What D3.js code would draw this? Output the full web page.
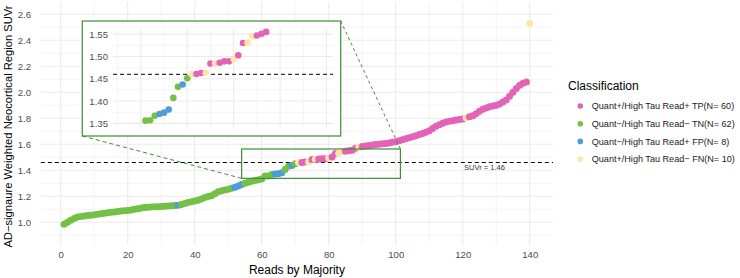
<!DOCTYPE html>
<html>
<head>
<meta charset="utf-8">
<script src="https://cdn.jsdelivr.net/npm/d3@7"></script>
<style>
body { margin: 0; background: #fff; }
text { font-family: "Liberation Sans", Arial, sans-serif; }
</style>
</head>
<body>
<script>
// SUVr per case, sorted by reads-by-majority rank (rank = index + 1)
var suvr = [
    0.985, 1.000, 1.015, 1.030, 1.040, 1.045, 1.048, 1.052, 1.055, 1.058,
    1.062, 1.066, 1.070, 1.074, 1.078, 1.080, 1.083, 1.086, 1.088, 1.090,
    1.094, 1.100, 1.105, 1.110, 1.113, 1.115, 1.117, 1.119, 1.120, 1.122,
    1.124, 1.126, 1.128, 1.130, 1.132, 1.137, 1.145, 1.152, 1.158, 1.163,
    1.170, 1.180, 1.190, 1.198, 1.205, 1.220, 1.235, 1.242, 1.248, 1.255,
    1.262, 1.270, 1.280, 1.290, 1.300, 1.308, 1.315, 1.322, 1.328, 1.334,
    1.356, 1.357, 1.367, 1.371, 1.374, 1.381, 1.407, 1.432, 1.437, 1.451,
    1.4605, 1.4605, 1.463, 1.463, 1.484, 1.4845, 1.486, 1.489, 1.489, 1.494,
    1.5025, 1.530, 1.531, 1.545, 1.547, 1.551, 1.555, 1.570, 1.577, 1.583,
    1.587, 1.590, 1.595, 1.598, 1.600, 1.604, 1.607, 1.610, 1.615, 1.620,
    1.628, 1.635, 1.643, 1.650, 1.658, 1.666, 1.675, 1.683, 1.692, 1.705,
    1.722, 1.738, 1.750, 1.762, 1.772, 1.778, 1.782, 1.786, 1.790, 1.795,
    1.805, 1.812, 1.820, 1.835, 1.855, 1.870, 1.880, 1.888, 1.895, 1.900,
    1.910, 1.925, 1.940, 1.970, 2.000, 2.030, 2.055, 2.070, 2.080, 2.530
];

var cls = [
    "TN","TN","TN","TN","TN","TN","TN","TN","TN","TN",
    "TN","TN","TN","TN","TN","TN","TN","TN","TN","TN",
    "TN","TN","TN","TN","TN","TN","TN","TN","TN","TN",
    "TN","TN","TN","TN","FP","TN","TN","TN","TN","TN",
    "TN","TN","TN","TN","TN","TN","TN","TN","TN","TN",
    "TN","FP","FP","FP","TN","TN","TN","TN","TN","TN",
    "TN","TN","TN","FP","FP","FP","TN","TN","FP","TN",
    "FN","TP","TP","FN","TP","FN","TP","TP","TP","FN",
    "TP","TP","FN","FN","TP","TP","TP","TP","FN","TP",
    "TP","TP","TP","TP","TP","TP","TP","TP","TP","TP",
    "TP","TP","TP","TP","TP","TP","TP","TP","TP","TP",
    "TP","TP","TP","TP","TP","TP","TP","TP","TP","TP",
    "FN","TP","TP","TP","TP","TP","TP","TP","TP","TP",
    "TP","TP","TP","TP","TP","TP","TP","TP","TP","FN"
];

var classes = ["TP", "TN", "FP", "FN"];
var classLabels = [
    "Quant+/High Tau Read+ TP(N= 60)",
    "Quant\u2212/High Tau Read\u2212 TN(N= 62)",
    "Quant\u2212/High Tau Read+ FP(N= 8)",
    "Quant+/High Tau Read\u2212 FN(N= 10)"
];
var classColors = ["#e263b7", "#74c047", "#4e9dd4", "#fde6a6"];

var xTicks = [0, 20, 40, 60, 80, 100, 120, 140];
var xMinor = [10, 30, 50, 70, 90, 110, 130];
var yTicks = [1.0, 1.2, 1.4, 1.6, 1.8, 2.0, 2.2, 2.4, 2.6];
var yMinor = [0.9, 1.1, 1.3, 1.5, 1.7, 1.9, 2.1, 2.3, 2.5];
var insetXTicks = [60, 70, 80, 90, 100];
var insetXMinor = [55, 65, 75, 85, 95];
var insetYTicks = [1.35, 1.40, 1.45, 1.50, 1.55];
var insetYMinor = [1.375, 1.425, 1.475, 1.525];
var threshold = 1.46;
var zoomX = [54, 101.4];
var zoomY = [1.338, 1.564];

var data = suvr.map(function(v, i) {
    return {read: i + 1, suvr: v, cls: cls[i]};
});

var svg = d3.select("body").append("svg")
        .attr("width", 740)
        .attr("height", 278);

var panel = {left: 40.8, right: 553, top: 2, bottom: 245};

var x = d3.scaleLinear().domain([-5.95, 146.95]).range([panel.left, panel.right]);
var y = d3.scaleLinear().domain([0.8254, 2.6946]).range([panel.bottom, panel.top]);
var color = d3.scaleOrdinal().domain(classes).range(classColors);

function grid(g, xs, ys, xmaj, xmin, ymaj, ymin, x0, x1, y0, y1) {
    g.selectAll("line.xmin").data(xmin).enter().append("line")
        .attr("x1", xs).attr("x2", xs).attr("y1", y0).attr("y2", y1)
        .attr("stroke", "#ebebeb").attr("stroke-width", 0.55);
    g.selectAll("line.ymin").data(ymin).enter().append("line")
        .attr("y1", ys).attr("y2", ys).attr("x1", x0).attr("x2", x1)
        .attr("stroke", "#ebebeb").attr("stroke-width", 0.55);
    g.selectAll("line.xmaj").data(xmaj).enter().append("line")
        .attr("x1", xs).attr("x2", xs).attr("y1", y0).attr("y2", y1)
        .attr("stroke", "#ebebeb").attr("stroke-width", 1.1);
    g.selectAll("line.ymaj").data(ymaj).enter().append("line")
        .attr("y1", ys).attr("y2", ys).attr("x1", x0).attr("x2", x1)
        .attr("stroke", "#ebebeb").attr("stroke-width", 1.1);
}

var gridG = svg.append("g");
grid(gridG, x, y, xTicks, xMinor, yTicks, yMinor, panel.left, panel.right, panel.top, panel.bottom);

// axes (labels only, as in theme_minimal)
var xaxis = svg.append("g")
    .attr("transform", "translate(0," + panel.bottom + ")")
    .call(d3.axisBottom(x).tickValues(xTicks).tickSize(0).tickPadding(6));
var yaxis = svg.append("g")
    .attr("transform", "translate(" + 33 + ",0)")
    .call(d3.axisLeft(y).tickValues(yTicks).tickFormat(d3.format(".1f")).tickSize(0).tickPadding(2));
[xaxis, yaxis].forEach(function(a) {
    a.select(".domain").remove();
    a.selectAll("text")
        .attr("fill", "#4d4d4d")
        .style("font-size", "9.6px")
        .style("font-family", "'Liberation Sans', Arial, sans-serif");
});

svg.append("text")
    .attr("x", (panel.left + panel.right) / 2)
    .attr("y", 274)
    .attr("text-anchor", "middle")
    .style("font-size", "12px")
    .text("Reads by Majority");

svg.append("text")
    .attr("transform", "translate(12,126.5) rotate(-90)")
    .attr("text-anchor", "middle")
    .style("font-size", "11.2px")
    .text("AD\u2212signaure Weighted Neocortical Region SUVr");

// threshold
svg.append("line")
    .attr("x1", panel.left).attr("x2", panel.right)
    .attr("y1", y(threshold)).attr("y2", y(threshold))
    .attr("stroke", "#000").attr("stroke-width", 1)
    .attr("stroke-dasharray", "4,3");

svg.append("text")
    .attr("x", x(126.5))
    .attr("y", y(1.42) + 2.5)
    .attr("text-anchor", "middle")
    .attr("fill", "#333")
    .style("font-size", "7.5px")
    .text("SUVr = 1.46");

svg.append("g").selectAll("circle")
    .data(data)
    .enter().append("circle")
    .attr("cx", function(d) { return x(d.read); })
    .attr("cy", function(d) { return y(d.suvr); })
    .attr("r", 3.5)
    .attr("fill", function(d) { return color(d.cls); });

// zoomed region box on the main panel
var boxColor = "#3e8e35";
svg.append("rect")
    .attr("x", x(zoomX[0])).attr("y", y(zoomY[1]))
    .attr("width", x(zoomX[1]) - x(zoomX[0]))
    .attr("height", y(zoomY[0]) - y(zoomY[1]))
    .attr("fill", "none").attr("stroke", boxColor).attr("stroke-width", 1.2);

// inset
var inset = {left: 82.3, right: 340.7, top: 21, bottom: 136};
var ipanel = {left: 113, right: 333, top: 27.9, bottom: 128.7};
var ix = d3.scaleLinear().domain(zoomX).range([ipanel.left, ipanel.right]);
var iy = d3.scaleLinear().domain(zoomY).range([ipanel.bottom, ipanel.top]);

var ig = svg.append("g");
ig.append("rect")
    .attr("x", inset.left).attr("y", inset.top)
    .attr("width", inset.right - inset.left).attr("height", inset.bottom - inset.top)
    .attr("fill", "#fff");
grid(ig, ix, iy, insetXTicks, insetXMinor, insetYTicks, insetYMinor,
    ipanel.left, ipanel.right, ipanel.top, ipanel.bottom);

var iyaxis = ig.append("g")
    .attr("transform", "translate(" + 109 + ",0)")
    .call(d3.axisLeft(iy).tickValues(insetYTicks).tickFormat(d3.format(".2f")).tickSize(0).tickPadding(1));
iyaxis.select(".domain").remove();
iyaxis.selectAll("text")
    .attr("fill", "#4d4d4d")
    .style("font-size", "9.6px")
    .style("font-family", "'Liberation Sans', Arial, sans-serif");

ig.append("line")
    .attr("x1", ipanel.left).attr("x2", ipanel.right)
    .attr("y1", iy(threshold)).attr("y2", iy(threshold))
    .attr("stroke", "#000").attr("stroke-width", 1)
    .attr("stroke-dasharray", "4,3");

svg.append("clipPath").attr("id", "iclip")
    .append("rect")
    .attr("x", ipanel.left).attr("y", ipanel.top)
    .attr("width", ipanel.right - ipanel.left).attr("height", ipanel.bottom - ipanel.top);

ig.append("g").attr("clip-path", "url(#iclip)")
    .selectAll("circle")
    .data(data.filter(function(d) {
        return d.read >= zoomX[0] && d.read <= zoomX[1] && d.suvr >= zoomY[0] && d.suvr <= zoomY[1];
    }))
    .enter().append("circle")
    .attr("cx", function(d) { return ix(d.read); })
    .attr("cy", function(d) { return iy(d.suvr); })
    .attr("r", 3.3)
    .attr("fill", function(d) { return color(d.cls); });

ig.append("rect")
    .attr("x", inset.left).attr("y", inset.top)
    .attr("width", inset.right - inset.left).attr("height", inset.bottom - inset.top)
    .attr("fill", "none").attr("stroke", boxColor).attr("stroke-width", 1.2);

// projection lines
svg.append("line")
    .attr("x1", inset.left).attr("y1", inset.bottom)
    .attr("x2", x(zoomX[0])).attr("y2", y(zoomY[0]))
    .attr("stroke", boxColor).attr("stroke-width", 1)
    .attr("stroke-dasharray", "4,3");
svg.append("line")
    .attr("x1", inset.right).attr("y1", inset.top)
    .attr("x2", x(zoomX[1])).attr("y2", y(zoomY[1]))
    .attr("stroke", boxColor).attr("stroke-width", 1)
    .attr("stroke-dasharray", "3,3");

// legend
var legend = svg.append("g").attr("transform", "translate(568,0)");
legend.append("text")
    .attr("x", 0).attr("y", 90)
    .style("font-size", "12px")
    .text("Classification");
var items = legend.selectAll("g.item")
    .data(classes)
    .enter().append("g")
    .attr("transform", function(d, i) { return "translate(0," + (106 + i * 17.7) + ")"; });
items.append("circle")
    .attr("cx", 12.3).attr("cy", 0).attr("r", 2.8)
    .attr("fill", function(d) { return color(d); });
items.append("text")
    .attr("x", 23.7).attr("y", 3.3)
    .style("font-size", "9.1px")
    .attr("fill", "#1a1a1a")
    .text(function(d, i) { return classLabels[i]; });
</script>
</body>
</html>
